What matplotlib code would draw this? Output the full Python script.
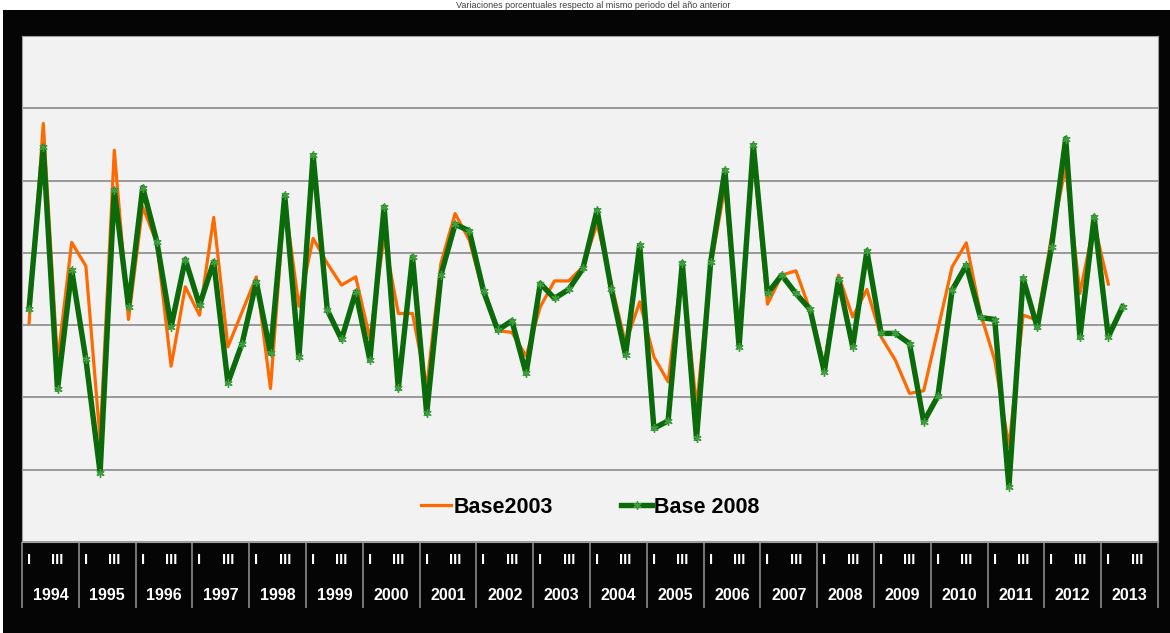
import numpy as np
import matplotlib.pyplot as plt
from matplotlib.patches import Rectangle
from matplotlib.transforms import blended_transform_factory

# Year-on-year % change, quarterly, 1994 Q1 onwards
years = [str(y) for y in range(1994, 2014)]
quarter_labels = ['I', 'III']

base2003 = [0.16, 13.95, -2.56, 5.72, 4.08, -7.95, 12.10, 0.39, 8.18, 5.65,
            -2.84, 2.65, 0.69, 7.45, -1.50, 0.92, 3.34, -4.38, 8.64, 1.31,
            6.00, 4.27, 2.77, 3.34, -0.92, 6.11, 0.81, 0.81, -4.29, 4.27,
            7.72, 5.88, 2.19, -0.39, -0.50, -2.14, 1.27, 3.06, 3.06, 4.03,
            7.03, 2.88, -1.27, 1.61, -2.19, -3.92, 4.03, -5.67, 4.03, 9.56,
            -1.04, 11.87, 1.45, 3.46, 3.76, 1.04, -2.77, 3.46, 0.57, 2.47,
            -0.81, -2.42, -4.72, -4.54, -0.30, 4.03, 5.69, 0.81, -2.42, -8.42,
            0.69, 0.35, 6.11, 10.95, 2.19, 7.03, 2.84]

base2008 = [1.15, 12.33, -4.45, 3.80, -2.37, -10.21, 9.34, 1.27, 9.52, 5.76,
            -0.12, 4.54, 1.38, 4.38, -3.99, -1.27, 3.00, -1.96, 8.99, -2.23,
            11.76, 1.04, -0.99, 2.30, -2.42, 8.18, -4.38, 4.72, -6.11, 3.46,
            6.98, 6.52, 2.37, -0.35, 0.30, -3.34, 2.88, 1.85, 2.47, 3.92,
            7.95, 2.47, -2.07, 5.53, -7.14, -6.62, 4.31, -7.84, 4.38, 10.72,
            -1.50, 12.45, 2.19, 3.46, 2.19, 1.09, -3.23, 3.18, -1.50, 5.14,
            -0.57, -0.57, -1.27, -6.69, -4.91, 2.42, 4.15, 0.53, 0.39, -11.18,
            3.23, -0.16, 5.41, 12.91, -0.85, 7.49, -0.81, 1.27]

W, H = 1170, 633
fig = plt.figure(figsize=(W / 100, H / 100), dpi=100)
fig.patch.set_facecolor('white')

# black frame with a dark gradient at the top
fig.patches.append(Rectangle((3 / W, 0), 1 - 3 / W, (H - 10) / H, transform=fig.transFigure,
                             facecolor='#050505', edgecolor='none', zorder=0))
gax = fig.add_axes([3 / W, (H - 36) / H, 1 - 3 / W, 26 / H], zorder=0)
grad = np.linspace(0.22, 0.02, 60).reshape(-1, 1)
gax.imshow(grad, aspect='auto', cmap='gray', vmin=0, vmax=1, extent=(0, 1, 0, 1))
gax.axis('off')

# title sits in the thin strip above the frame
fig.text(0.507, 1.0 - 0.5 / H, 'Variaciones porcentuales respecto al mismo periodo del año anterior',
         ha='center', va='top', fontsize=6.5, color='#404040', family='Liberation Sans')

ax = fig.add_axes([22 / W, (H - 542) / H, 1136 / W, 506 / H], zorder=2)
ax.set_facecolor('#f2f2f2')

x3 = np.arange(len(base2003))
x8 = np.arange(len(base2008))
ax.plot(x3, base2003, color='#ff6a00', lw=2.3, label='Base2003', zorder=3)
ax.plot(x8, base2008, color='#0b6b0b', lw=3.9, marker=(6, 2, 0), markersize=6,
        markeredgecolor='#3f9f3f', markeredgewidth=1, label='Base 2008', zorder=4)

ax.set_xlim(-0.5, len(years) * 4 - 0.5)
ax.set_ylim(-15, 20)
ax.set_yticks(np.arange(-15, 21, 5))
ax.yaxis.grid(True, color='#8a8a8a', lw=1.2)
ax.set_axisbelow(True)
ax.tick_params(axis='y', length=0, labelleft=False)
for s in ax.spines.values():
    s.set_color('#a0a0a0')

# quarter labels (I, III) and years
qpos = []
qlab = []
for k in range(len(years)):
    qpos += [4 * k, 4 * k + 2]
    qlab += quarter_labels
ax.set_xticks(qpos)
ax.set_xticklabels(qlab, color='white', fontsize=10.5, fontweight='bold', family='Liberation Sans')
ax.tick_params(axis='x', length=0, pad=8)

tr = blended_transform_factory(ax.transData, ax.transAxes)
for k, yr in enumerate(years):
    ax.text(4 * k + 1.5, -0.105, yr, transform=tr, ha='center', va='center',
            color='white', fontsize=11.5, fontweight='bold', family='Liberation Sans')
ax.vlines(np.arange(0, len(years) + 1) * 4 - 0.5, -0.13, 0, transform=tr,
          colors='#8a8a8a', lw=1.2, clip_on=False)

leg = ax.legend(loc='center', bbox_to_anchor=(0.5, 0.069), ncol=2, frameon=False,
                prop={'family': 'Liberation Sans', 'weight': 'bold', 'size': 15.5},
                handlelength=1.4, handletextpad=0.1, columnspacing=3.2)

fig.savefig('out.png', dpi=100, facecolor=fig.get_facecolor())
